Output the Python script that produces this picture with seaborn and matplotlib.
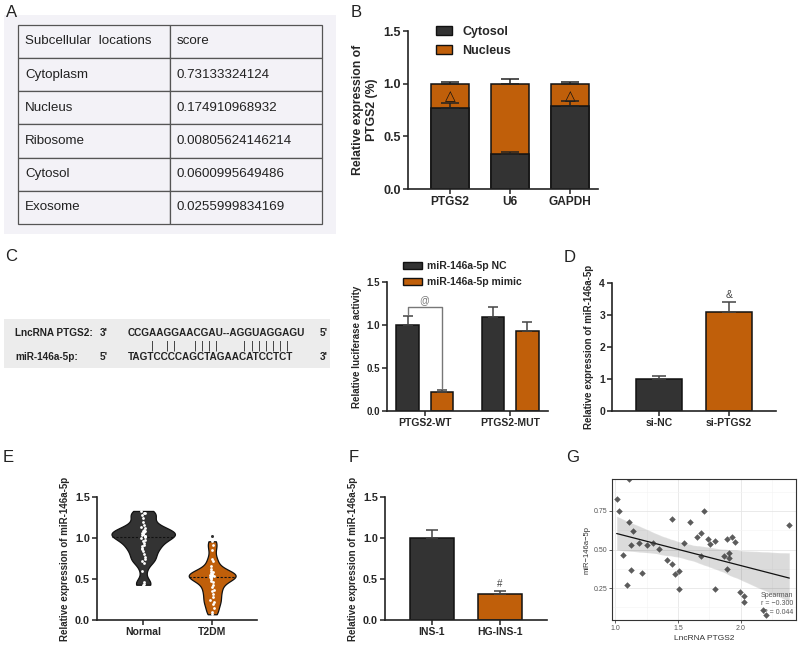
import numpy as np
import pandas as pd
import seaborn as sns
import matplotlib.pyplot as plt
from matplotlib.patches import Patch

W, H = 800, 647
DARK = '#333333'
ORANGE = '#c05f0a'
BG = '#f3f2f7'

# A - subcellular prediction table
loc_names = ['Cytoplasm', 'Nucleus', 'Ribosome', 'Cytosol', 'Exosome']
loc_scores = ['0.73133324124', '0.174910968932', '0.00805624146214',
              '0.0600995649486', '0.0255999834169']

# B - fractionation
frac_genes = ['PTGS2', 'U6', 'GAPDH']
cytosol_mean = [0.77, 0.33, 0.79]
cytosol_err = [0.05, 0.02, 0.05]
total_mean = [1.0, 1.0, 1.0]
total_err = [0.02, 0.04, 0.02]
frac_marks = ['\u25b3', '', '\u25b3']

# C - binding site + luciferase
lnc_seq = 'CCGAAGGAACGAU--AGGUAGGAGU'
mir_seq = 'TAGTCCCCAGCTAGAACATCCTCT'
pair_idx = [3, 5, 6, 9, 10, 11, 12, 16, 17, 18, 19, 20, 21, 22]
luc_groups = ['PTGS2-WT', 'PTGS2-MUT']
luc_hues = ['miR-146a-5p NC', 'miR-146a-5p mimic']
luc_nc = [1.0, 1.09]
luc_nc_err = [0.11, 0.12]
luc_mimic = [0.22, 0.93]
luc_mimic_err = [0.03, 0.11]

# D - knockdown
si_groups = ['si-NC', 'si-PTGS2']
si_mean = [1.0, 3.1]
si_err = [0.1, 0.3]

# E - patients
e_groups = ['Normal', 'T2DM']
normal_vals = [1.33, 1.31, 1.30, 1.28, 1.25, 1.20, 1.16, 1.14, 1.12, 1.10, 1.09,
               1.08, 1.07, 1.06, 1.05, 1.05, 1.04, 1.03, 1.02, 1.01, 1.00, 0.98,
               0.96, 0.94, 0.92, 0.90, 0.88, 0.86, 0.84, 0.80, 0.77, 0.74, 0.72,
               0.70, 0.60, 0.46, 0.44, 0.43]
t2dm_vals = [0.96, 0.92, 0.85, 0.75, 0.72, 0.66, 0.62, 0.60, 0.58, 0.57, 0.56,
             0.55, 0.55, 0.54, 0.54, 0.53, 0.52, 0.51, 0.50, 0.48, 0.46, 0.43,
             0.40, 0.37, 0.35, 0.32, 0.28, 0.25, 0.22, 0.20, 0.15, 0.10, 0.07]
t2dm_outlier = [1.03]

# F - cells
ins_groups = ['INS-1', 'HG-INS-1']
ins_mean = [1.0, 0.32]
ins_err = [0.1, 0.03]

# G - correlation
lnc_x = [1.013, 1.111, 1.034, 1.108, 1.143, 1.066, 1.130, 1.193, 1.257, 1.299,
         1.352, 1.124, 1.217, 1.095, 1.455, 1.410, 1.450, 1.474, 1.508, 1.508,
         1.548, 1.595, 1.653, 1.685, 1.706, 1.680, 1.735, 1.754, 1.796, 1.794,
         1.862, 1.886, 1.926, 1.950, 1.905, 1.905, 1.892, 1.989, 2.026, 2.026,
         2.177, 2.198, 2.384]
mir_y = [0.827, 0.956, 0.748, 0.679, 0.619, 0.462, 0.531, 0.544, 0.529, 0.540,
         0.503, 0.370, 0.347, 0.271, 0.698, 0.430, 0.407, 0.340, 0.362, 0.246,
         0.542, 0.679, 0.578, 0.606, 0.748, 0.456, 0.568, 0.538, 0.557, 0.241,
         0.458, 0.565, 0.580, 0.548, 0.477, 0.445, 0.374, 0.226, 0.196, 0.162,
         0.110, 0.074, 0.662]

sns.set_style('ticks')
plt.rcParams['font.family'] = ['Liberation Sans', 'DejaVu Sans']


def rect(l, t, r, b):
    return [l / W, 1 - b / H, (r - l) / W, (b - t) / H]


def prism(ax, fs_y=8, fs_x=8):
    sns.despine(ax=ax)
    for s in ['left', 'bottom']:
        ax.spines[s].set_linewidth(1.2)
        ax.spines[s].set_color('#222')
    ax.tick_params(length=3.5, width=1.1, color='#222', pad=1.5)
    ax.tick_params(axis='y', labelsize=fs_y)
    ax.tick_params(axis='x', labelsize=fs_x)
    for t in ax.get_xticklabels() + ax.get_yticklabels():
        t.set_fontweight('bold')
    ax.set_xlabel('')


def top_errors(ax, patches, errs, cap, color='#222'):
    xs = [p.get_x() + p.get_width() / 2 for p in patches]
    ys = [p.get_height() for p in patches]
    ax.errorbar(xs, ys, yerr=[np.zeros(len(errs)), errs], fmt='none',
                ecolor=color, elinewidth=1.1, capsize=cap, capthick=1.1, zorder=4)
    return xs, ys


fig = plt.figure(figsize=(W / 100, H / 100), dpi=100)

# ---------- A
axA = fig.add_axes(rect(4, 15, 336, 234))
axA.set_facecolor(BG)
axA.set_xticks([])
axA.set_yticks([])
for s in axA.spines.values():
    s.set_visible(False)
cells = [['Subcellular  locations', 'score']] + [[n, v] for n, v in zip(loc_names, loc_scores)]
tb = axA.table(cellText=cells, cellLoc='left', bbox=[0.042, 0.046, 0.916, 0.909])
tb.auto_set_font_size(False)
tb.set_fontsize(9.6)
for c in tb.get_celld().values():
    c.set_facecolor(BG)
    c.set_edgecolor('#555')
    c.set_linewidth(0.9)
    c.PAD = 0.046
    c.get_text().set_color('#222')

# ---------- B
axB = fig.add_axes(rect(408, 31, 598, 189))
sns.barplot(x=frac_genes, y=total_mean, color=ORANGE, saturation=1, width=0.63,
            edgecolor='#111', linewidth=1.1, errorbar=None, ax=axB)
sns.barplot(x=frac_genes, y=cytosol_mean, color=DARK, saturation=1, width=0.63,
            edgecolor='#111', linewidth=1.1, errorbar=None, ax=axB)
pB = axB.patches
xs, ys = top_errors(axB, pB[:3], total_err, 6.5)
xs2, ys2 = top_errors(axB, pB[3:6], cytosol_err, 6.5)
for x, m in zip(xs, frac_marks):
    axB.text(x, 0.88, m, ha='center', va='center', fontsize=10, family='DejaVu Sans', color='#111')
axB.set_ylim(0, 1.5)
axB.set_yticks([0, 0.5, 1.0, 1.5])
axB.set_xlim(-0.7, 2.47)
prism(axB, 9, 8.6)
axB.set_ylabel('Relative expression of\nPTGS2 (%)', fontsize=8.8, fontweight='bold', labelpad=4)
axB.legend(handles=[Patch(fc=DARK, ec='#111', lw=1, label='Cytosol'),
                    Patch(fc=ORANGE, ec='#111', lw=1, label='Nucleus')],
           loc='upper left', bbox_to_anchor=(0.115, 1.07), frameon=False, borderpad=0,
           handlelength=1.3, handleheight=0.7, handletextpad=0.8, labelspacing=0.55,
           prop={'size': 9, 'weight': 'bold'})

# ---------- C sequence
axS = fig.add_axes(rect(4, 319, 330, 368))
axS.set_facecolor('#ececec')
axS.set_xlim(4, 330)
axS.set_ylim(368, 319)
axS.set_xticks([])
axS.set_yticks([])
for s in axS.spines.values():
    s.set_visible(False)
seq_kw = dict(fontsize=7.2, fontweight='bold', va='center', color='#222')
axS.text(15, 333, 'LncRNA PTGS2:', **seq_kw)
axS.text(100, 333, "3'", **seq_kw)
axS.text(128, 333, lnc_seq, **seq_kw)
axS.text(320, 333, "5'", **seq_kw)
axS.text(15, 357, 'miR-146a-5p:', **seq_kw)
axS.text(100, 357, "5'", **seq_kw)
axS.text(128, 357, mir_seq, **seq_kw)
axS.text(320, 357, "3'", **seq_kw)
step = (298 - 128) / len(mir_seq)
for i in pair_idx:
    axS.text(128 + step * (i + 0.5), 345.5, '|', ha='center', va='center', fontsize=7,
             color='#111', family='DejaVu Sans')

# ---------- C luciferase
axC = fig.add_axes(rect(387, 282, 548, 411))
luc_df = pd.DataFrame({'group': luc_groups * 2,
                       'treat': [luc_hues[0]] * 2 + [luc_hues[1]] * 2,
                       'val': luc_nc + luc_mimic})
sns.barplot(data=luc_df, x='group', y='val', hue='treat', palette=[DARK, ORANGE],
            saturation=1, gap=0.35, edgecolor='#111', linewidth=1.1, errorbar=None,
            legend=False, ax=axC)
pC = axC.patches[:4]
xc, yc = top_errors(axC, pC, luc_nc_err + luc_mimic_err, 3.8, color='#444')
tops = [y + e for y, e in zip(yc, luc_nc_err + luc_mimic_err)]
axC.plot([xc[0], xc[0], xc[2], xc[2]], [tops[0] + 0.02, 1.21, 1.21, tops[2] + 0.02],
         color='#777', lw=1)
axC.text((xc[0] + xc[2]) / 2, 1.29, '@', ha='center', va='center', fontsize=7, color='#777')
axC.set_ylim(0, 1.5)
axC.set_yticks([0, 0.5, 1.0, 1.5])
axC.set_xlim(-0.44, 1.44)
prism(axC, 7, 7.5)
axC.set_ylabel('Relative luciferase activity', fontsize=7, fontweight='bold', labelpad=3)
axC.legend(handles=[Patch(fc=DARK, ec='#111', lw=1, label=luc_hues[0]),
                    Patch(fc=ORANGE, ec='#111', lw=1, label=luc_hues[1])],
           loc='upper left', bbox_to_anchor=(0.068, 1.2), frameon=False, borderpad=0,
           handlelength=1.8, handleheight=0.6, handletextpad=0.5, labelspacing=0.55,
           prop={'size': 7.5, 'weight': 'bold'})

# ---------- D
axD = fig.add_axes(rect(612, 283, 776, 411))
sns.barplot(x=si_groups, y=si_mean, palette=[DARK, ORANGE], hue=si_groups, legend=False,
            saturation=1, width=0.66, edgecolor='#111', linewidth=1.1, errorbar=None, ax=axD)
xd, yd = top_errors(axD, axD.patches[:2], si_err, 4.7, color='#444')
axD.text(xd[1], yd[1] + si_err[1] + 0.22, '&', ha='center', va='center', fontsize=7.5, color='#444')
axD.set_ylim(0, 4)
axD.set_yticks([0, 1, 2, 3, 4])
axD.set_xlim(-0.67, 1.67)
prism(axD, 7.5, 7.5)
axD.set_ylabel('Relative expression of miR-146a-5p', fontsize=7, fontweight='bold', labelpad=4)

# ---------- E
axE = fig.add_axes(rect(97, 497, 257, 620))
for vals, col, wd in [(normal_vals, DARK, 0.92), (t2dm_vals, ORANGE, 0.68)]:
    g = e_groups[0] if vals is normal_vals else e_groups[1]
    sns.violinplot(x=[g] * len(vals), y=vals, order=e_groups, color=col, saturation=1,
                   linecolor='#111', linewidth=0.9, cut=0, inner=None, bw_adjust=0.55,
                   width=wd, ax=axE)
    i = e_groups.index(g)
    axE.hlines(np.median(vals), i - wd / 2 * 0.97, i + wd / 2 * 0.97, colors='#111',
               linestyles=(0, (2, 1.5)), lw=0.8, zorder=3)
    sns.stripplot(x=[g] * len(vals), y=vals, order=e_groups, color='white', size=2,
                  jitter=0.03, linewidth=0, ax=axE, zorder=4)
sns.stripplot(x=[e_groups[1]] * len(t2dm_outlier), y=t2dm_outlier, order=e_groups,
              color=DARK, size=2.2, jitter=False, ax=axE)
axE.set_ylim(0, 1.5)
axE.set_yticks([0, 0.5, 1.0, 1.5])
axE.set_xlim(-0.67, 1.65)
prism(axE, 7.8, 7.5)
axE.set_ylabel('Relative expression of miR-146a-5p', fontsize=7, fontweight='bold', labelpad=4)

# ---------- F
axF = fig.add_axes(rect(385, 497, 547, 620))
sns.barplot(x=ins_groups, y=ins_mean, palette=[DARK, ORANGE], hue=ins_groups, legend=False,
            saturation=1, width=0.65, edgecolor='#111', linewidth=1.1, errorbar=None, ax=axF)
xf, yf = top_errors(axF, axF.patches[:2], ins_err, 4.5, color='#444')
axF.text(xf[1], yf[1] + ins_err[1] + 0.09, '#', ha='center', va='center', fontsize=7, color='#444')
axF.set_ylim(0, 1.5)
axF.set_yticks([0, 0.5, 1.0, 1.5])
axF.set_xlim(-0.69, 1.69)
prism(axF, 7.8, 7.5)
axF.set_ylabel('Relative expression of miR-146a-5p', fontsize=7, fontweight='bold', labelpad=4)

# ---------- G
axG = fig.add_axes(rect(612, 479, 796, 620))
sns.regplot(x=lnc_x, y=mir_y, ax=axG, ci=95, marker='D',
            scatter_kws=dict(s=11, color=DARK, linewidths=0, zorder=3),
            line_kws=dict(color='#111', lw=0.9))
for coll in axG.collections:
    if coll.__class__.__name__ == 'PolyCollection':
        coll.set_facecolor('#9a9a9a')
        coll.set_alpha(0.55)
        coll.set_edgecolor('none')
axG.set_xlim(0.976, 2.437)
axG.set_ylim(0.043, 0.957)
axG.set_xticks([1.0, 1.5, 2.0])
axG.set_yticks([0.25, 0.50, 0.75])
axG.set_xticks([1.25, 1.75, 2.25], minor=True)
axG.set_yticks([0.125, 0.375, 0.625, 0.875], minor=True)
axG.set_xticklabels(['1.0', '1.5', '2.0'])
axG.set_yticklabels(['0.25', '0.50', '0.75'])
axG.grid(True, which='major', color='#e6e6e6', lw=0.6)
axG.grid(True, which='minor', color='#f3f3f3', lw=0.4)
axG.set_axisbelow(True)
for s in axG.spines.values():
    s.set_color('#333')
    s.set_linewidth(0.8)
axG.tick_params(which='major', length=2, width=0.6, color='#444', labelsize=5, labelcolor='#555', pad=1.5)
axG.tick_params(which='minor', length=0)
axG.set_xlabel('LncRNA PTGS2', fontsize=6, color='#333', labelpad=2)
axG.set_ylabel('miR\u2212146a\u22125p', fontsize=5.5, color='#333', labelpad=2)
axG.text(0.985, 0.03, 'Spearman\nr = \u22120.300\nP = 0.044', transform=axG.transAxes,
         ha='right', va='bottom', fontsize=5, color='#555', linespacing=1.3)

# ---------- panel letters
for lab, x, y in [('A', 6, 17), ('B', 351, 17), ('C', 5, 261), ('D', 564, 262),
                  ('E', 3, 462), ('F', 349, 462), ('G', 566, 462)]:
    fig.text(x / W, 1 - y / H, lab, fontsize=12, va='baseline', ha='left', color='#222')

fig.savefig('out.png', dpi=100)
